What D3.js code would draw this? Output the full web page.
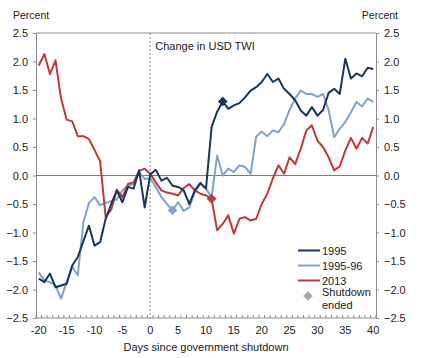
<!DOCTYPE html>
<html><head><meta charset="utf-8">
<script src="https://cdn.jsdelivr.net/npm/d3@7"></script>
<style>body{margin:0;background:#fff}svg{display:block}text{font-family:"Liberation Sans",Arial,sans-serif;fill:#222}</style>
</head><body><svg id="c" width="421" height="358"></svg>
<script>
const days = d3.range(-20, 41);
const s1995 = [-1.81,-1.87,-1.72,-1.96,-1.93,-1.90,-1.58,-1.43,-1.15,-0.88,-1.23,-1.17,-0.76,-0.50,-0.26,-0.47,-0.20,-0.23,0.09,-0.56,
  0.02,0.10,-0.09,-0.04,-0.18,-0.20,-0.26,-0.50,-0.26,-0.13,-0.23,0.85,1.12,1.30,1.17,1.23,1.27,1.37,1.49,1.55,
  1.64,1.78,1.64,1.70,1.52,1.43,1.32,1.14,1.05,1.20,1.05,1.15,1.45,1.52,1.43,2.05,1.70,1.79,1.74,1.89,1.87];
const s199596 = [-1.70,-1.84,-1.87,-1.93,-2.16,-1.87,-1.60,-1.75,-0.82,-0.48,-0.38,-0.52,-0.48,-0.45,-0.42,-0.26,-0.18,-0.15,0.06,-0.06,
  -0.05,-0.20,-0.38,-0.50,-0.61,-0.47,-0.62,-0.56,-0.29,-0.15,-0.23,-0.38,0.35,0.00,0.12,0.06,0.18,0.15,0.03,0.68,
  0.77,0.69,0.79,0.76,0.90,1.15,1.35,1.49,1.43,1.43,1.38,1.43,1.15,0.67,0.82,0.94,1.11,1.29,1.21,1.35,1.29];
const s2013 = [1.93,2.13,1.78,2.02,1.35,0.98,0.95,0.69,0.69,0.64,0.45,0.25,-0.73,-0.60,-0.25,-0.38,-0.15,-0.12,0.08,0.12,
  0.03,-0.12,-0.26,-0.30,-0.32,-0.35,-0.22,-0.15,-0.26,-0.32,-0.35,-0.41,-0.96,-0.85,-0.70,-1.02,-0.76,-0.73,-0.79,-0.76,
  -0.50,-0.32,-0.05,0.18,0.03,0.32,0.20,0.47,0.79,0.88,0.61,0.50,0.32,0.09,0.16,0.44,0.66,0.47,0.66,0.56,0.85];
const seriesNames = ["1995","1995-96","2013"];
const seriesColors = ["#17375e","#7ea3cc","#c0393b"];
const shutdownEndDay = [13, 4, 11];
const yTicks = [-2.5,-2,-1.5,-1,-0.5,0,0.5,1,1.5,2,2.5];
const xTickLabels = [-20,-15,-10,-5,0,5,10,15,20,25,30,35,40];
const allSeries = [s1995, s199596, s2013];

const svg = d3.select("#c");
const L = 36, R = 376, T = 33, B = 318;
const x = d3.scalePoint().domain(days).range([L, R]).padding(0.5);
const y = d3.scaleLinear().domain([-2.5, 2.5]).range([B, T]);
const axisCol = "#8c8c8c";
const fmt = d3.format(".1f");

// frame
svg.append("line").attr("x1",L).attr("x2",R).attr("y1",T).attr("y2",T).attr("stroke",axisCol);
const yl = svg.append("g").attr("transform",`translate(${L},0)`).call(d3.axisLeft(y).tickValues(yTicks).tickSize(3).tickFormat(fmt));
const yr = svg.append("g").attr("transform",`translate(${R},0)`).call(d3.axisRight(y).tickValues(yTicks).tickSize(3).tickFormat(fmt));
[yl, yr].forEach(g => {
  g.select(".domain").attr("stroke",axisCol);
  g.selectAll(".tick line").attr("stroke",axisCol);
  g.selectAll(".tick text").attr("font-size",11).attr("font-family","Liberation Sans, Arial").attr("fill","#333");
});
yl.selectAll(".tick text").attr("x",-8);
yr.selectAll(".tick text").attr("x",8);

// bottom axis with minor ticks at category boundaries
const step = x.step();
svg.append("line").attr("x1",L).attr("x2",R).attr("y1",B).attr("y2",B).attr("stroke",axisCol);
svg.append("g").selectAll("line").data(d3.range(0, days.length + 1)).join("line")
  .attr("x1", i => L + i*step).attr("x2", i => L + i*step)
  .attr("y1", B - 3).attr("y2", B).attr("stroke", axisCol);
svg.append("g").selectAll("text").data(xTickLabels).join("text")
  .attr("x", d => x(d)).attr("y", B + 16).attr("text-anchor","middle").attr("font-size",11).attr("fill","#333")
  .text(d => d);

// zero line
svg.append("line").attr("x1",L).attr("x2",R).attr("y1",y(0)).attr("y2",y(0)).attr("stroke","#7a7a7a").attr("stroke-width",1);
// shutdown start dotted line
svg.append("line").attr("x1",x(0)).attr("x2",x(0)).attr("y1",T).attr("y2",B)
  .attr("stroke","#b0b0b0").attr("stroke-width",1.5).attr("stroke-dasharray","2,2");

// series lines
const line = d3.line().x((d,i) => x(days[i])).y(d => y(d));
const order = [1, 2, 0];
order.forEach(k => {
  svg.append("path").datum(allSeries[k]).attr("d", line).attr("fill","none")
    .attr("stroke", seriesColors[k]).attr("stroke-width", 2).attr("stroke-linejoin","round");
});
// diamonds
const diamond = d3.symbol().type(d3.symbolDiamond2).size(60);
order.forEach(k => {
  const d = shutdownEndDay[k];
  const v = allSeries[k][days.indexOf(d)];
  svg.append("path").attr("d", diamond()).attr("transform", `translate(${x(d)},${y(v)})`).attr("fill", seriesColors[k]);
});

// texts
svg.append("text").attr("x",13).attr("y",19).attr("font-size",10.5).attr("fill","#333").text("Percent");
svg.append("text").attr("x",398).attr("y",19).attr("font-size",10.5).attr("text-anchor","end").attr("fill","#333").text("Percent");
svg.append("text").attr("x",205).attr("y",50).attr("font-size",11).attr("text-anchor","middle").attr("fill","#222").text("Change in USD TWI");
svg.append("text").attr("x",206).attr("y",351).attr("font-size",11).attr("text-anchor","middle").attr("fill","#222").text("Days since government shutdown");

// legend
const lg = svg.append("g");
seriesNames.forEach((n, k) => {
  const ly = 250.5 + k*15;
  lg.append("line").attr("x1",298).attr("x2",320).attr("y1",ly).attr("y2",ly).attr("stroke",seriesColors[k]).attr("stroke-width",2);
  lg.append("text").attr("x",322).attr("y",ly+4).attr("font-size",11).attr("fill","#222").text(n);
});
lg.append("path").attr("d", diamond()).attr("transform","translate(308,296)").attr("fill","#a6a6a6");
lg.append("text").attr("x",322).attr("y",296).attr("font-size",11).attr("fill","#222").text("Shutdown");
lg.append("text").attr("x",322).attr("y",309).attr("font-size",11).attr("fill","#222").text("ended");
</script></body></html>
